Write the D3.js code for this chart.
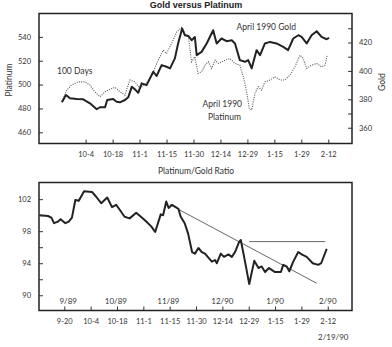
<!DOCTYPE html>
<html>
<head>
<meta charset="utf-8">
<script src="https://cdn.jsdelivr.net/npm/d3@7"></script>
<style>
  body { margin: 0; background: #fff; }
  text { fill: #333; }
</style>
</head>
<body>
<div id="chart"></div>
<script>
// trading-day index: 9-20 = 0, 10-4 = 10, ... 2-12 = 100
var dateTicks = [0, 10, 20, 30, 40, 50, 60, 70, 80, 90, 100];
var dateLabels = ["9-20", "10-4", "10-18", "11-1", "11-15", "11-30", "12-14", "12-29", "1-15", "1-29", "2-12"];
var monthTicks = [1.5, 19.6, 39.5, 60, 80, 100];
var monthLabels = ["9/89", "10/89", "11/89", "12/90", "1/90", "2/90"];

var platTicks = [460, 480, 500, 520, 540];
var goldTicks = [360, 380, 400, 420];
var goldMinor = [370, 390, 410, 430];
var ratioTicks = [90, 94, 98, 102];
var ratioMinor = [92, 96, 100];

// April 1990 gold (solid)
var goldDays = [1.2, 2.7, 4.2, 6.7, 9.1, 11.6, 14.1, 15.3, 17.2, 18.0, 20.2, 21.5, 22.7, 24.6, 25.8, 27.1, 28.3, 29.5, 30.8, 32.6,
  35.1, 36.3, 38.2, 40.0, 41.3, 43.1, 44.3, 45.8, 46.8, 48.1, 49.3, 50.5, 51.2, 53.0, 54.9, 57.3, 58.6, 60.4, 62.3, 64.2,
  65.4, 67.2, 69.1, 70.3, 71.6, 73.4, 74.7, 76.5, 78.4, 80.8, 83.3, 85.1, 87.0, 88.9, 90.1, 92.0, 93.8, 95.7, 97.5, 99.4, 100.3];
var goldValues = [377.9, 383, 380.7, 380.2, 380, 377.2, 373, 374.4, 374.4, 379.5, 380.2, 378.3, 377.9, 379.5, 381.4, 388.8, 387, 384.6, 391.2, 390,
  399.4, 396.4, 404.1, 402.9, 401.8, 408.8, 419.3, 429.8, 425.1, 424.6, 421.6, 423.9, 411.1, 413.4, 419.3, 428.6, 419.3, 422.8, 420.9, 421.6,
  419.3, 407.6, 406.4, 407.6, 401.8, 414.6, 411.1, 419.3, 420.4, 419.3, 416.9, 414.6, 422.8, 425.1, 423.9, 419.3, 425.1, 427.9, 423.9, 422.3, 423.2];

// April 1990 platinum (dotted)
var platDays = [1.2, 3.0, 4.8, 7.3, 9.7, 11.6, 13.4, 15.3, 17.2, 19.0, 20.9, 22.7, 24.6, 26.4, 28.3, 30.1, 32.6, 35.1, 36.9, 38.8,
  40.0, 41.9, 43.8, 45.6, 46.8, 48.1, 49.3, 50.5, 51.7, 53.0, 54.3, 55.5, 56.7, 58.0, 59.2, 61.7, 63.5, 65.4, 67.2, 68.5,
  69.7, 70.7, 71.6, 72.8, 74.0, 75.3, 76.5, 78.4, 80.2, 82.1, 83.9, 85.8, 87.6, 89.5, 90.7, 92.0, 93.8, 95.7, 97.5, 98.8, 99.6];
var platValues = [485.6, 495.4, 499.6, 502.3, 502.3, 499.6, 494, 489.8, 494, 496, 497.7, 494, 491.2, 503.8, 502.3, 496.8, 501, 510.7, 520.5, 528.9,
  526.1, 534.5, 544.2, 547.9, 542.8, 540, 519.1, 523.3, 509.4, 510.7, 516.3, 519.1, 513.6, 520.5, 517.7, 520.5, 521.9, 517.7, 516.3, 506.5,
  494, 480.1, 478.7, 492.6, 498.2, 495.4, 502.3, 503.8, 506.5, 503.8, 503.8, 508, 514.9, 524.7, 521.9, 513.6, 516.3, 517.7, 514.9, 516.3, 524.7];

// platinum/gold ratio
var ratioDays = [-9.3, -6.2, -4.9, -3.9, -2.4, -1.4, 0.4, 1.7, 2.9, 4.2, 5.5, 7.5, 10.5, 12.1, 14.0, 16.3, 18.1, 19.7, 22.9, 24.8,
  27.3, 30.5, 33.0, 34.5, 36.6, 37.5, 38.7, 39.6, 40.9, 43.3, 44.2, 45.7, 47.0, 48.5, 49.6, 50.9, 52.2, 53.4, 56.0, 57.2,
  57.9, 59.4, 60.6, 62.3, 63.6, 64.8, 66.4, 67.0, 68.6, 70.2, 72.1, 73.7, 74.9, 76.2, 77.7, 80.0, 82.2, 83.1, 84.4, 85.4,
  86.9, 88.8, 90.1, 92.0, 94.3, 96.4, 97.5, 99.6];
var ratioValues = [100.0, 99.9, 99.7, 99.0, 99.2, 99.5, 99.0, 99.2, 99.7, 101.9, 101.8, 103.0, 102.9, 102.3, 101.5, 102.2, 101.0, 101.3, 99.8, 99.6,
  100.3, 99.4, 98.6, 97.9, 100.1, 100.0, 101.7, 100.9, 101.3, 100.8, 99.8, 99.0, 97.7, 95.4, 95.2, 95.9, 95.4, 95.2, 94.2, 94.4,
  94.0, 95.2, 94.8, 95.1, 94.8, 95.4, 96.7, 96.9, 94.2, 91.4, 94.3, 93.4, 93.6, 92.9, 93.4, 92.9, 92.9, 93.8, 93.6, 93.0,
  94.2, 95.4, 95.1, 94.8, 94.0, 93.8, 94.0, 95.8];

// trend lines drawn on the ratio chart
var trendDays = [40.1, 95.8];
var trendValues = [101.3, 91.5];
var resistDays = [70.2, 99.0];
var resistValues = [96.7, 96.7];

var W = 392, H = 347;
var svg = d3.select("#chart").append("svg").attr("width", W).attr("height", H);

var fontLabel = "Lato, 'Open Sans', sans-serif";

// ---- top panel ----
var topBox = {left: 39, right: 352, top: 13.5, bottom: 143.5};
var xTop = d3.scaleLinear().domain([-7.3, 108.8]).range([topBox.left, topBox.right]);
var yPlat = d3.scaleLinear().domain([450.6, 559.6]).range([topBox.bottom, topBox.top]);
var yGold = d3.scaleLinear().domain([348.9, 440.4]).range([topBox.bottom, topBox.top]);

svg.append("text").attr("x", 196).attr("y", 8)
  .attr("text-anchor", "middle")
  .style("font-family", "'Liberation Sans', Arial, sans-serif")
  .style("font-size", "9px").style("font-weight", "bold").style("fill", "#222")
  .text("Gold versus Platinum");

var gTop = svg.append("g");

var platLine = d3.line().x(function(d) { return xTop(d[0]); }).y(function(d) { return yPlat(d[1]); });
var goldLine = d3.line().x(function(d) { return xTop(d[0]); }).y(function(d) { return yGold(d[1]); });

gTop.append("path")
  .datum(d3.zip(platDays, platValues))
  .attr("d", platLine)
  .attr("fill", "none").attr("stroke", "#555").attr("stroke-width", 1.1)
  .attr("stroke-dasharray", "1,1.3");

gTop.append("path")
  .datum(d3.zip(goldDays, goldValues))
  .attr("d", goldLine)
  .attr("fill", "none").attr("stroke", "#222").attr("stroke-width", 2)
  .attr("stroke-linejoin", "round");

// axes (ticks pointing inward)
gTop.append("g").attr("transform", "translate(0," + topBox.bottom + ")")
  .call(d3.axisBottom(xTop).tickValues(dateTicks.slice(1)).tickSizeInner(-4).tickSizeOuter(0).tickPadding(8)
    .tickFormat(function(d) { return dateLabels[dateTicks.indexOf(d)]; }));

gTop.append("g").attr("transform", "translate(" + topBox.left + ",0)")
  .call(d3.axisLeft(yPlat).tickValues(platTicks).tickSizeInner(-4).tickSizeOuter(0).tickPadding(8));

gTop.append("g").attr("transform", "translate(" + topBox.right + ",0)")
  .call(d3.axisRight(yGold).tickValues(goldTicks).tickSizeInner(-4).tickSizeOuter(0).tickPadding(7));

gTop.append("g").attr("transform", "translate(" + topBox.right + ",0)")
  .call(d3.axisRight(yGold).tickValues(goldMinor).tickSizeInner(-4).tickSizeOuter(0).tickFormat(""));

gTop.append("rect")
  .attr("x", topBox.left).attr("y", topBox.top)
  .attr("width", topBox.right - topBox.left).attr("height", topBox.bottom - topBox.top)
  .attr("fill", "none").attr("stroke", "#222").attr("stroke-width", 1.5);

gTop.append("text").attr("transform", "translate(12,80) rotate(-90)")
  .attr("text-anchor", "middle").style("font-family", fontLabel).style("font-size", "8.5px")
  .text("Platinum");
gTop.append("text").attr("transform", "translate(385,82) rotate(-90)")
  .attr("text-anchor", "middle").style("font-family", fontLabel).style("font-size", "8.5px")
  .text("Gold");

gTop.append("text").attr("x", 57).attr("y", 73.5).style("font-family", fontLabel).style("font-size", "8.5px")
  .text("100 Days");
gTop.append("text").attr("x", 236.5).attr("y", 29.5).style("font-family", fontLabel).style("font-size", "8.5px")
  .text("April 1990 Gold");
gTop.append("text").attr("x", 202.5).attr("y", 107).style("font-family", fontLabel).style("font-size", "8.5px")
  .text("April 1990");
gTop.append("text").attr("x", 224.5).attr("y", 120).attr("text-anchor", "middle")
  .style("font-family", fontLabel).style("font-size", "8.5px")
  .text("Platinum");

// ---- bottom panel ----
var botBox = {left: 39, right: 352, top: 182.5, bottom: 310.5};
var xBot = d3.scaleLinear().domain([-9.6, 109.2]).range([botBox.left, botBox.right]);
var yRatio = d3.scaleLinear().domain([88.1, 104.08]).range([botBox.bottom, botBox.top]);

svg.append("text").attr("x", 196).attr("y", 174)
  .attr("text-anchor", "middle").style("font-family", fontLabel).style("font-size", "8.5px")
  .text("Platinum/Gold Ratio");

var gBot = svg.append("g");

var ratioLine = d3.line().x(function(d) { return xBot(d[0]); }).y(function(d) { return yRatio(d[1]); });

gBot.append("path")
  .datum(d3.zip(trendDays, trendValues))
  .attr("d", ratioLine)
  .attr("fill", "none").attr("stroke", "#666").attr("stroke-width", 1);

gBot.append("path")
  .datum(d3.zip(resistDays, resistValues))
  .attr("d", ratioLine)
  .attr("fill", "none").attr("stroke", "#666").attr("stroke-width", 1);

gBot.append("path")
  .datum(d3.zip(ratioDays, ratioValues))
  .attr("d", ratioLine)
  .attr("fill", "none").attr("stroke", "#222").attr("stroke-width", 2)
  .attr("stroke-linejoin", "round");

gBot.append("g").attr("transform", "translate(0," + botBox.bottom + ")")
  .call(d3.axisBottom(xBot).tickValues(dateTicks).tickSizeInner(-4).tickSizeOuter(0).tickPadding(8)
    .tickFormat(function(d, i) { return dateLabels[i]; }));

gBot.append("g").attr("transform", "translate(" + botBox.left + ",0)")
  .call(d3.axisLeft(yRatio).tickValues(ratioTicks).tickSizeInner(-4).tickSizeOuter(0).tickPadding(8));

gBot.append("g").attr("transform", "translate(" + botBox.left + ",0)")
  .call(d3.axisLeft(yRatio).tickValues(ratioMinor).tickSizeInner(-4).tickSizeOuter(0).tickFormat(""));

gBot.append("rect")
  .attr("x", botBox.left).attr("y", botBox.top)
  .attr("width", botBox.right - botBox.left).attr("height", botBox.bottom - botBox.top)
  .attr("fill", "none").attr("stroke", "#222").attr("stroke-width", 1.5);

gBot.selectAll(".month")
  .data(monthTicks)
  .enter().append("text")
  .attr("class", "month")
  .attr("x", function(d) { return xBot(d); })
  .attr("y", 303.5)
  .attr("text-anchor", "middle")
  .style("font-family", fontLabel).style("font-size", "8px")
  .text(function(d, i) { return monthLabels[i]; });

gBot.append("text").attr("x", 318).attr("y", 339.5)
  .style("font-family", fontLabel).style("font-size", "8px")
  .text("2/19/90");

// axis styling
svg.selectAll(".domain").remove();
svg.selectAll(".tick line").attr("stroke", "#333").attr("stroke-width", 1);
svg.selectAll(".tick text").style("font-family", fontLabel).style("font-size", "7.5px").style("fill", "#333");
</script>
</body>
</html>
